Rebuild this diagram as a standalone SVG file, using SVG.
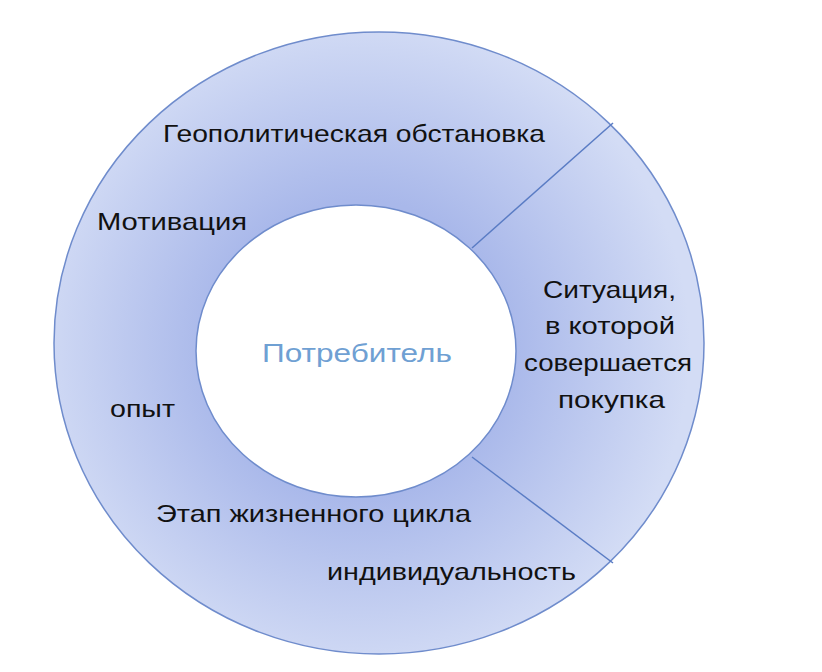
<svg xmlns="http://www.w3.org/2000/svg" width="822" height="672" viewBox="0 0 822 672">
<defs>
<radialGradient id="g" cx="360" cy="348" r="330" gradientUnits="userSpaceOnUse">
<stop offset="0.45" stop-color="#a9b8ea"/>
<stop offset="1" stop-color="#d3dcf5"/>
</radialGradient>
<style>
.t{font-family:"Liberation Sans",Arial,sans-serif;font-size:24px;fill:#111}
.ring{stroke:#6f8ccc;stroke-width:1.5}
</style>
</defs>
<rect width="822" height="672" fill="#fff"/>
<g id="ring">
<path class="ring" fill="url(#g)" fill-rule="evenodd" d="M54,343a325,311 0 1,0 650,0a325,311 0 1,0 -650,0Z M196,351a160,146 0 1,0 320,0a160,146 0 1,0 -320,0Z"/>
</g>
<g id="connectors" stroke="#5a7cc4" stroke-width="1.5">
<line x1="472" y1="248" x2="613" y2="123"/>
<line x1="472" y1="457" x2="613" y2="563"/>
</g>
<g id="center"><text x="262" y="362" textLength="190" lengthAdjust="spacingAndGlyphs" font-family="Liberation Sans,Arial,sans-serif" font-size="26" fill="#6fa0d3">Потребитель</text></g>
<g id="labels">
<text class="t" x="163" y="142" textLength="382" lengthAdjust="spacingAndGlyphs">Геополитическая обстановка</text>
<text class="t" x="97" y="230" textLength="150" lengthAdjust="spacingAndGlyphs">Мотивация</text>
<text class="t" x="110" y="417" textLength="65" lengthAdjust="spacingAndGlyphs">опыт</text>
<text class="t" x="156" y="522" textLength="315" lengthAdjust="spacingAndGlyphs">Этап жизненного цикла</text>
<text class="t" x="327" y="580" textLength="249" lengthAdjust="spacingAndGlyphs">индивидуальность</text>
<text class="t" x="543" y="298" textLength="133" lengthAdjust="spacingAndGlyphs">Ситуация,</text>
<text class="t" x="545" y="334" textLength="130" lengthAdjust="spacingAndGlyphs">в которой</text>
<text class="t" x="524" y="371" textLength="168" lengthAdjust="spacingAndGlyphs">совершается</text>
<text class="t" x="558" y="408" textLength="107" lengthAdjust="spacingAndGlyphs">покупка</text>
</g>
</svg>
